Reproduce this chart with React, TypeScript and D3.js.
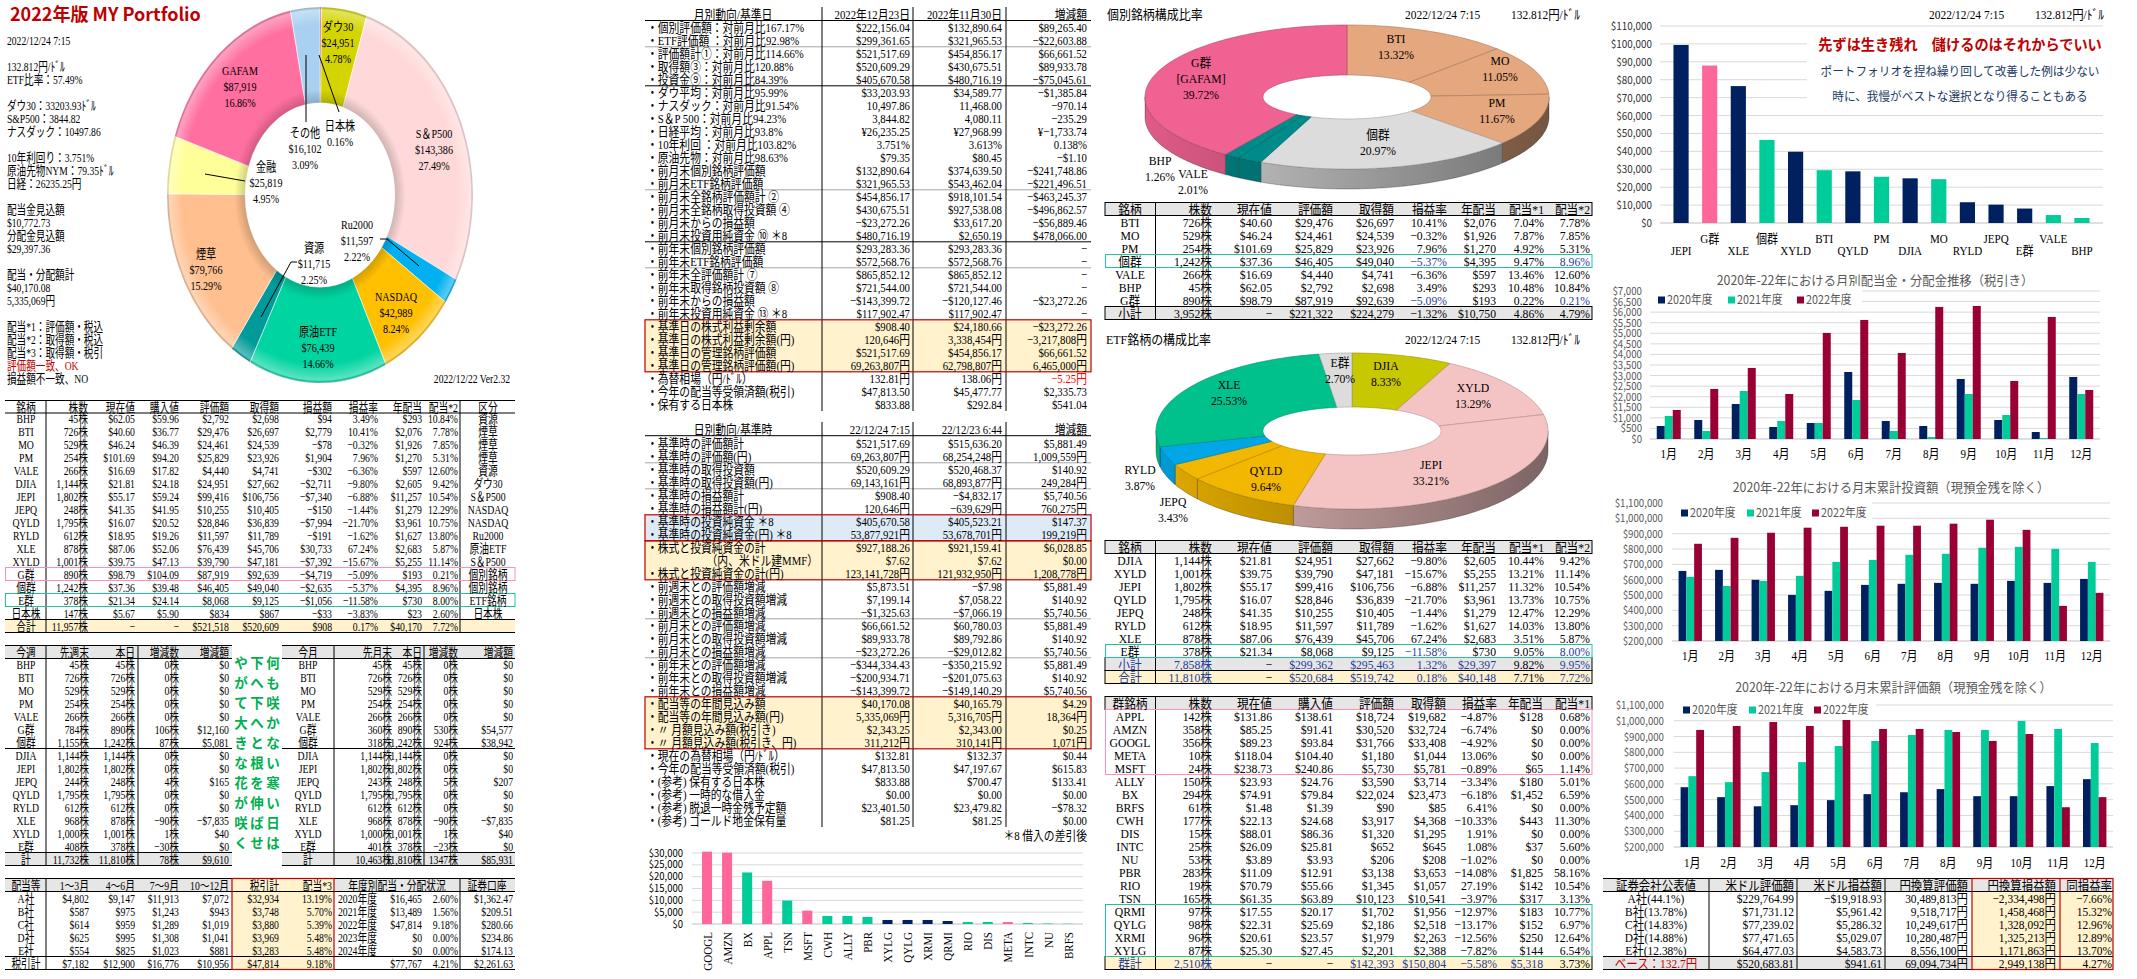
import React from 'react';
import * as d3 from 'd3';

const TF = "'Liberation Serif','Noto Sans CJK JP',serif";
const SF = "'Noto Sans CJK JP','Noto Sans',sans-serif";
const NAVY = '#002060';
const GREEN = '#00cc99';
const PINK = '#ff6699';
const MAROON = '#990033';
const GRAYBG = '#e7e6e6';
const CREAM = '#fff2cc';
const BLUEBG = '#ddebf7';
const RED = '#c00000';
const BLUET = '#1f3c99';
const BOXPINK = '#ff8fbf';
const BOXGREEN = '#1fc49a';

// ================= DATA =================
const infoLines = ['2022/12/24 7:15', '', '132.812円/ﾄﾞﾙ', 'ETF比率：57.49%', '', 'ダウ30：33203.93ﾄﾞﾙ', 'S&P500：3844.82', 'ナスダック：10497.86', '', '10年利回り：3.751%', '原油先物NYM：79.35ﾄﾞﾙ', '日経：26235.25円', '', '配当金見込額', '$10,772.73', '分配金見込額', '$29,397.36', '', '配当・分配額計', '$40,170.08', '5,335,069円', '', '配当*1：評価額・税込', '配当*2：取得額・税込', '配当*3：取得額・税引', '評価額一致、OK', '損益額不一致、NO'];

const donutCats = ['日本株', 'ダウ30', 'S＆P500', 'Ru2000', 'NASDAQ', '原油ETF', '資源', '煙草', '金融', 'GAFAM', 'その他'];
const donutVals = [834, 24951, 143386, 11597, 42989, 76439, 11715, 79766, 25819, 87919, 16102];
const donutPct = ['0.16%', '4.78%', '27.49%', '2.22%', '8.24%', '14.66%', '2.25%', '15.29%', '4.95%', '16.86%', '3.09%'];
const donutColors = ['#c00000', '#d4d400', '#ffd9d9', '#00b0f0', '#ffc000', '#00d4a0', '#009a9a', '#ffbf8f', '#ffff99', '#ff6f9f', '#a8d0f0'];

const holdHeader = ['銘柄', '株数', '現在値', '購入値', '評価額', '取得額', '損益額', '損益率', '年配当', '配当*2', '区分'];
const holdRows = [
  ['BHP', '45株', '$62.05', '$59.96', '$2,792', '$2,698', '$94', '3.49%', '$293', '10.84%', '資源'],
  ['BTI', '726株', '$40.60', '$36.77', '$29,476', '$26,697', '$2,779', '10.41%', '$2,076', '7.78%', '煙草'],
  ['MO', '529株', '$46.24', '$46.39', '$24,461', '$24,539', '−$78', '−0.32%', '$1,926', '7.85%', '煙草'],
  ['PM', '254株', '$101.69', '$94.20', '$25,829', '$23,926', '$1,904', '7.96%', '$1,270', '5.31%', '煙草'],
  ['VALE', '266株', '$16.69', '$17.82', '$4,440', '$4,741', '−$302', '−6.36%', '$597', '12.60%', '資源'],
  ['DJIA', '1,144株', '$21.81', '$24.18', '$24,951', '$27,662', '−$2,711', '−9.80%', '$2,605', '9.42%', 'ダウ30'],
  ['JEPI', '1,802株', '$55.17', '$59.24', '$99,416', '$106,756', '−$7,340', '−6.88%', '$11,257', '10.54%', 'S＆P500'],
  ['JEPQ', '248株', '$41.35', '$41.95', '$10,255', '$10,405', '−$150', '−1.44%', '$1,279', '12.29%', 'NASDAQ'],
  ['QYLD', '1,795株', '$16.07', '$20.52', '$28,846', '$36,839', '−$7,994', '−21.70%', '$3,961', '10.75%', 'NASDAQ'],
  ['RYLD', '612株', '$18.95', '$19.26', '$11,597', '$11,789', '−$191', '−1.62%', '$1,627', '13.80%', 'Ru2000'],
  ['XLE', '878株', '$87.06', '$52.06', '$76,439', '$45,706', '$30,733', '67.24%', '$2,683', '5.87%', '原油ETF'],
  ['XYLD', '1,001株', '$39.75', '$47.13', '$39,790', '$47,181', '−$7,392', '−15.67%', '$5,255', '11.14%', 'S＆P500'],
  ['G群', '890株', '$98.79', '$104.09', '$87,919', '$92,639', '−$4,719', '−5.09%', '$193', '0.21%', '個別銘柄'],
  ['個群', '1,242株', '$37.36', '$39.48', '$46,405', '$49,040', '−$2,635', '−5.37%', '$4,395', '8.96%', '個別銘柄'],
  ['E群', '378株', '$21.34', '$24.14', '$8,068', '$9,125', '−$1,056', '−11.58%', '$730', '8.00%', 'ETF銘柄'],
  ['日本株', '147株', '$5.67', '$5.90', '$834', '$867', '−$33', '−3.83%', '$23', '2.60%', '日本株'],
  ['合計', '11,957株', '−', '−', '$521,518', '$520,609', '$908', '0.17%', '$40,170', '7.72%', ''],
];

const weekHeader = ['今週', '先週末', '本日', '増減数', '増減額'];
const weekRows = [
  ['BHP', '45株', '45株', '0株', '$0'], ['BTI', '726株', '726株', '0株', '$0'], ['MO', '529株', '529株', '0株', '$0'],
  ['PM', '254株', '254株', '0株', '$0'], ['VALE', '266株', '266株', '0株', '$0'], ['G群', '784株', '890株', '106株', '$12,160'],
  ['個群', '1,155株', '1,242株', '87株', '$5,081'], ['DJIA', '1,144株', '1,144株', '0株', '$0'], ['JEPI', '1,802株', '1,802株', '0株', '$0'],
  ['JEPQ', '244株', '248株', '4株', '$165'], ['QYLD', '1,795株', '1,795株', '0株', '$0'], ['RYLD', '612株', '612株', '0株', '$0'],
  ['XLE', '968株', '878株', '−90株', '−$7,835'], ['XYLD', '1,000株', '1,001株', '1株', '$40'], ['E群', '408株', '378株', '−30株', '$0'],
  ['計', '11,732株', '11,810株', '78株', '$9,610'],
];
const monthHeader = ['今月', '先月末', '本日', '増減数', '増減額'];
const monthRows = [
  ['BHP', '45株', '45株', '0株', '$0'], ['BTI', '726株', '726株', '0株', '$0'], ['MO', '529株', '529株', '0株', '$0'],
  ['PM', '254株', '254株', '0株', '$0'], ['VALE', '266株', '266株', '0株', '$0'], ['G群', '360株', '890株', '530株', '$54,577'],
  ['個群', '318株', '1,242株', '924株', '$38,942'], ['DJIA', '1,144株', '1,144株', '0株', '$0'], ['JEPI', '1,802株', '1,802株', '0株', '$0'],
  ['JEPQ', '243株', '248株', '5株', '$207'], ['QYLD', '1,795株', '1,795株', '0株', '$0'], ['RYLD', '612株', '612株', '0株', '$0'],
  ['XLE', '968株', '878株', '−90株', '−$7,835'], ['XYLD', '1,000株', '1,001株', '1株', '$40'], ['E群', '401株', '378株', '−23株', '$0'],
  ['計', '10,463株', '11,810株', '1347株', '$85,931'],
];
const poemCols = ['やがて大きな花が咲く', '下へ下へと根を伸ばせ', '何も咲かない寒い日は'];

const divHeader = ['配当等', '1～3月', '4～6月', '7～9月', '10～12月', '税引計', '配当*3', '年度別配当・分配状況', '証券口座'];
const divRows = [
  ['A社', '$4,802', '$9,147', '$11,913', '$7,072', '$32,934', '13.19%', '2020年度', '$16,465', '2.60%', '$1,362.47'],
  ['B社', '$587', '$975', '$1,243', '$943', '$3,748', '5.70%', '2021年度', '$13,489', '1.56%', '$209.51'],
  ['C社', '$614', '$959', '$1,289', '$1,019', '$3,880', '5.39%', '2022年度', '$47,814', '9.18%', '$280.66'],
  ['D社', '$625', '$995', '$1,308', '$1,041', '$3,969', '5.48%', '2023年度', '$0', '0.00%', '$234.86'],
  ['E社', '$554', '$825', '$1,023', '$881', '$3,283', '5.48%', '2024年度', '$0', '0.00%', '$174.13'],
  ['税引計', '$7,182', '$12,900', '$16,776', '$10,956', '$47,814', '9.18%', '', '$77,767', '4.21%', '$2,261.63'],
];

const monHeader = ['月別動向/基準日', '2022年12月23日', '2022年11月30日', '増減額'];
const monRows = [
  ['・個別評価額：対前月比167.17%', '$222,156.04', '$132,890.64', '$89,265.40'],
  ['・ETF評価額 ：対前月比92.98%', '$299,361.65', '$321,965.53', '−$22,603.88'],
  ['・評価額計①：対前月比114.66%', '$521,517.69', '$454,856.17', '$66,661.52'],
  ['・取得額③：対前月比120.88%', '$520,609.29', '$430,675.51', '$89,933.78'],
  ['・投資金⑨：対前月比84.39%', '$405,670.58', '$480,716.19', '−$75,045.61'],
  ['・ダウ平均：対前月比95.99%', '$33,203.93', '$34,589.77', '−$1,385.84'],
  ['・ナスダック：対前月比91.54%', '10,497.86', '11,468.00', '−970.14'],
  ['・S＆P 500：対前月比94.23%', '3,844.82', '4,080.11', '−235.29'],
  ['・日経平均：対前月比93.8%', '¥26,235.25', '¥27,968.99', '¥−1,733.74'],
  ['・10年利回 ：対前月比103.82%', '3.751%', '3.613%', '0.138%'],
  ['・原油先物：対前月比98.63%', '$79.35', '$80.45', '−$1.10'],
  ['・前月末個別銘柄評価額', '$132,890.64', '$374,639.50', '−$241,748.86'],
  ['・前月末ETF銘柄評価額', '$321,965.53', '$543,462.04', '−$221,496.51'],
  ['・前月末全銘柄評価額計 ②', '$454,856.17', '$918,101.54', '−$463,245.37'],
  ['・前月末全銘柄取得投資額 ④', '$430,675.51', '$927,538.08', '−$496,862.57'],
  ['・前月末からの損益額', '−$23,272.26', '$33,617.20', '−$56,889.46'],
  ['・前月末投資用純資金 ⑩ ＊8', '$480,716.19', '$2,650.19', '$478,066.00'],
  ['・前年末個別銘柄評価額', '$293,283.36', '$293,283.36', '−'],
  ['・前年末ETF銘柄評価額', '$572,568.76', '$572,568.76', '−'],
  ['・前年末全評価額計 ⑦', '$865,852.12', '$865,852.12', '−'],
  ['・前年末取得銘柄投資額 ⑧', '$721,544.00', '$721,544.00', '−'],
  ['・前年末からの損益額', '−$143,399.72', '−$120,127.46', '−$23,272.26'],
  ['・前年末投資用純資金 ⑬ ＊8', '$117,902.47', '$117,902.47', '−'],
  ['・基準日の株式利益剰余額', '$908.40', '$24,180.66', '−$23,272.26'],
  ['・基準日の株式利益剰余額(円)', '120,646円', '3,338,454円', '−3,217,808円'],
  ['・基準日の管理銘柄評価額', '$521,517.69', '$454,856.17', '$66,661.52'],
  ['・基準日の管理銘柄評価額(円)', '69,263,807円', '62,798,807円', '6,465,000円'],
  ['・為替相場（円/ﾄﾞﾙ）', '132.81円', '138.06円', '−5.25円'],
  ['・今年の配当等受領済額(税引)', '$47,813.50', '$45,477.77', '$2,335.73'],
  ['・保有する日本株', '$833.88', '$292.84', '$541.04'],
];

const dayHeader = ['日別動向/基準時', '22/12/24 7:15', '22/12/23 6:44', '増減額'];
const dayRows = [
  ['・基準時の評価額計', '$521,517.69', '$515,636.20', '$5,881.49'],
  ['・基準時の評価額(円)', '69,263,807円', '68,254,248円', '1,009,559円'],
  ['・基準時の取得投資額', '$520,609.29', '$520,468.37', '$140.92'],
  ['・基準時の取得投資額(円)', '69,143,161円', '68,893,877円', '249,284円'],
  ['・基準時の損益額計', '$908.40', '−$4,832.17', '$5,740.56'],
  ['・基準時の損益額計(円)', '120,646円', '−639,629円', '760,275円'],
  ['・基準時の投資純資金 ＊8', '$405,670.58', '$405,523.21', '$147.37'],
  ['・基準時の投資純資金(円) ＊8', '53,877,921円', '53,678,701円', '199,219円'],
  ['・株式と投資純資金の計', '$927,188.26', '$921,159.41', '$6,028.85'],
  ['（内、米ドル建MMF）', '$7.62', '$7.62', '$0.00'],
  ['・株式と投資純資金の計(円)', '123,141,728円', '121,932,950円', '1,208,778円'],
  ['・前週末との評価額増減', '$5,873.51', '−$7.98', '$5,881.49'],
  ['・前週末との取得投資額増減', '$7,199.14', '$7,058.22', '$140.92'],
  ['・前週末との損益額増減', '−$1,325.63', '−$7,066.19', '$5,740.56'],
  ['・前月末との評価額増減', '$66,661.52', '$60,780.03', '$5,881.49'],
  ['・前月末との取得投資額増減', '$89,933.78', '$89,792.86', '$140.92'],
  ['・前月末との損益額増減', '−$23,272.26', '−$29,012.82', '$5,740.56'],
  ['・前年末との評価額増減', '−$344,334.43', '−$350,215.92', '$5,881.49'],
  ['・前年末との取得投資額増減', '−$200,934.71', '−$201,075.63', '$140.92'],
  ['・前年末との損益額増減', '−$143,399.72', '−$149,140.29', '$5,740.56'],
  ['・配当等の年間見込み額', '$40,170.08', '$40,165.79', '$4.29'],
  ['・配当等の年間見込み額(円)', '5,335,069円', '5,316,705円', '18,364円'],
  ['・〃 月額見込み額(税引き)', '$2,343.25', '$2,343.00', '$0.25'],
  ['・〃 月額見込み額(税引き、円)', '311,212円', '310,141円', '1,071円'],
  ['・現在の為替相場（円/ﾄﾞﾙ）', '$132.81', '$132.37', '$0.44'],
  ['・今年の配当等受領済額(税引)', '$47,813.50', '$47,197.67', '$615.83'],
  ['・(参考) 保有する日本株', '$833.88', '$700.47', '$133.41'],
  ['・(参考) 一時的な借入金', '$0.00', '$0.00', '$0.00'],
  ['・(参考) 脱退一時金残予定額', '$23,401.50', '$23,479.82', '−$78.32'],
  ['・(参考) ゴールド地金保有量', '$81.25', '$81.25', '$0.00'],
];

const grpNames = ['GOOGL', 'AMZN', 'BX', 'APPL', 'TSN', 'MSFT', 'CWH', 'ALLY', 'PBR', 'XYLG', 'QYLG', 'XRMI', 'QRMI', 'RIO', 'DIS', 'META', 'INTC', 'NU', 'BRFS'];
const grpVals = [30560, 30140, 21790, 18250, 9900, 5660, 3400, 3400, 2970, 1700, 1700, 1700, 1270, 850, 850, 850, 420, 200, 90];
const grpKind = ['g', 'g', 'i', 'g', 'i', 'g', 'i', 'i', 'i', 'e', 'e', 'e', 'e', 'i', 'i', 'g', 'i', 'i', 'i'];

const indHeader = ['銘柄', '株数', '現在値', '評価額', '取得額', '損益率', '年配当', '配当*1', '配当*2'];
const indRows = [
  ['BTI', '726株', '$40.60', '$29,476', '$26,697', '10.41%', '$2,076', '7.04%', '7.78%'],
  ['MO', '529株', '$46.24', '$24,461', '$24,539', '−0.32%', '$1,926', '7.87%', '7.85%'],
  ['PM', '254株', '$101.69', '$25,829', '$23,926', '7.96%', '$1,270', '4.92%', '5.31%'],
  ['個群', '1,242株', '$37.36', '$46,405', '$49,040', '−5.37%', '$4,395', '9.47%', '8.96%'],
  ['VALE', '266株', '$16.69', '$4,440', '$4,741', '−6.36%', '$597', '13.46%', '12.60%'],
  ['BHP', '45株', '$62.05', '$2,792', '$2,698', '3.49%', '$293', '10.48%', '10.84%'],
  ['G群', '890株', '$98.79', '$87,919', '$92,639', '−5.09%', '$193', '0.22%', '0.21%'],
  ['小計', '3,952株', '−', '$221,322', '$224,279', '−1.32%', '$10,750', '4.86%', '4.79%'],
];
const pie1Names = ['BTI', 'MO', 'PM', '個群', 'VALE', 'BHP', 'G群'];
const pie1Vals = [13.32, 11.05, 11.67, 20.97, 2.01, 1.26, 39.72];
const pie1Colors = ['#e4a77e', '#e4a77e', '#e4a77e', '#dcdcdc', '#008b8b', '#008b8b', '#f06292'];

const etfRows = [
  ['DJIA', '1,144株', '$21.81', '$24,951', '$27,662', '−9.80%', '$2,605', '10.44%', '9.42%'],
  ['XYLD', '1,001株', '$39.75', '$39,790', '$47,181', '−15.67%', '$5,255', '13.21%', '11.14%'],
  ['JEPI', '1,802株', '$55.17', '$99,416', '$106,756', '−6.88%', '$11,257', '11.32%', '10.54%'],
  ['QYLD', '1,795株', '$16.07', '$28,846', '$36,839', '−21.70%', '$3,961', '13.73%', '10.75%'],
  ['JEPQ', '248株', '$41.35', '$10,255', '$10,405', '−1.44%', '$1,279', '12.47%', '12.29%'],
  ['RYLD', '612株', '$18.95', '$11,597', '$11,789', '−1.62%', '$1,627', '14.03%', '13.80%'],
  ['XLE', '878株', '$87.06', '$76,439', '$45,706', '67.24%', '$2,683', '3.51%', '5.87%'],
  ['E群', '378株', '$21.34', '$8,068', '$9,125', '−11.58%', '$730', '9.05%', '8.00%'],
  ['小計', '7,858株', '−', '$299,362', '$295,463', '1.32%', '$29,397', '9.82%', '9.95%'],
  ['合計', '11,810株', '−', '$520,684', '$519,742', '0.18%', '$40,148', '7.71%', '7.72%'],
];
const pie2Names = ['DJIA', 'XYLD', 'JEPI', 'QYLD', 'JEPQ', 'RYLD', 'XLE', 'E群'];
const pie2Vals = [8.33, 13.29, 33.21, 9.64, 3.43, 3.87, 25.53, 2.70];
const pie2Colors = ['#c8c800', '#f4c4c4', '#f4c4c4', '#f2b700', '#f2b700', '#00a6e6', '#00c08c', '#dcdcdc'];

const gunHeader = ['群銘柄', '株数', '現在値', '購入値', '評価額', '取得額', '損益率', '年配当', '配当*1'];
const gunRows = [
  ['APPL', '142株', '$131.86', '$138.61', '$18,724', '$19,682', '−4.87%', '$128', '0.68%'],
  ['AMZN', '358株', '$85.25', '$91.41', '$30,520', '$32,724', '−6.74%', '$0', '0.00%'],
  ['GOOGL', '356株', '$89.23', '$93.84', '$31,766', '$33,408', '−4.92%', '$0', '0.00%'],
  ['META', '10株', '$118.04', '$104.40', '$1,180', '$1,044', '13.06%', '$0', '0.00%'],
  ['MSFT', '24株', '$238.73', '$240.86', '$5,730', '$5,781', '−0.89%', '$65', '1.14%'],
  ['ALLY', '150株', '$23.93', '$24.76', '$3,590', '$3,714', '−3.34%', '$180', '5.01%'],
  ['BX', '294株', '$74.91', '$79.84', '$22,024', '$23,473', '−6.18%', '$1,452', '6.59%'],
  ['BRFS', '61株', '$1.48', '$1.39', '$90', '$85', '6.41%', '$0', '0.00%'],
  ['CWH', '177株', '$22.13', '$24.68', '$3,917', '$4,368', '−10.33%', '$443', '11.30%'],
  ['DIS', '15株', '$88.01', '$86.36', '$1,320', '$1,295', '1.91%', '$0', '0.00%'],
  ['INTC', '25株', '$26.09', '$25.81', '$652', '$645', '1.08%', '$37', '5.60%'],
  ['NU', '53株', '$3.89', '$3.93', '$206', '$208', '−1.02%', '$0', '0.00%'],
  ['PBR', '283株', '$11.09', '$12.91', '$3,138', '$3,653', '−14.08%', '$1,825', '58.16%'],
  ['RIO', '19株', '$70.79', '$55.66', '$1,345', '$1,057', '27.19%', '$142', '10.54%'],
  ['TSN', '165株', '$61.35', '$63.89', '$10,123', '$10,541', '−3.97%', '$317', '3.13%'],
  ['QRMI', '97株', '$17.55', '$20.17', '$1,702', '$1,956', '−12.97%', '$183', '10.77%'],
  ['QYLG', '98株', '$22.31', '$25.69', '$2,186', '$2,518', '−13.17%', '$152', '6.97%'],
  ['XRMI', '96株', '$20.61', '$23.57', '$1,979', '$2,263', '−12.56%', '$250', '12.64%'],
  ['XYLG', '87株', '$25.30', '$27.45', '$2,201', '$2,388', '−7.82%', '$144', '6.54%'],
  ['群計', '2,510株', '−', '−', '$142,393', '$150,804', '−5.58%', '$5,318', '3.73%'],
];

const topNames = ['JEPI', 'G群', 'XLE', '個群', 'XYLD', 'BTI', 'QYLD', 'PM', 'DJIA', 'MO', 'RYLD', 'JEPQ', 'E群', 'VALE', 'BHP'];
const topVals = [99416, 87919, 76439, 46405, 39790, 29476, 28846, 25829, 24951, 24461, 11597, 10255, 8068, 4440, 2792];
const topKind = ['e', 'g', 'e', 'i', 'e', 'i', 'e', 'i', 'e', 'i', 'e', 'e', 'e', 'i', 'i'];

const months = ['1月', '2月', '3月', '4月', '5月', '6月', '7月', '8月', '9月', '10月', '11月', '12月'];
const years = ['2020年度', '2021年度', '2022年度'];
const div2020 = [615, 899, 1656, 568, 757, 3170, 852, 615, 2839, 899, 331, 2934];
const div2021 = [1088, 379, 2271, 852, 757, 1845, 379, 95, 2129, 1136, 47, 2129];
const div2022 = [1372, 2366, 3360, 2129, 5016, 5631, 4069, 6246, 6293, 2744, 5773, 2319];
const inv2020 = [657000, 664000, 599000, 501000, 527000, 566000, 573000, 579000, 573000, 592000, 579000, 605000];
const inv2021 = [618000, 559000, 592000, 625000, 716000, 729000, 762000, 769000, 808000, 814000, 801000, 716000];
const inv2022 = [834000, 873000, 906000, 939000, 945000, 952000, 952000, 965000, 991000, 925000, 429000, 514000];
const val2020 = [579000, 516000, 458000, 465000, 497000, 535000, 547000, 567000, 522000, 522000, 586000, 630000];
const val2021 = [649000, 611000, 675000, 738000, 840000, 872000, 910000, 942000, 942000, 999000, 948000, 859000];
const val2022 = [942000, 967000, 992000, 967000, 1005000, 948000, 948000, 929000, 872000, 916000, 452000, 516000];

const brokerHeader = ['証券会社公表値', '米ドル評価額', '米ドル損益額', '円換算評価額', '円換算損益額', '同損益率'];
const brokerRows = [
  ['A社(44.1%)', '$229,764.99', '−$19,918.93', '30,489,813円', '−2,334,498円', '−7.66%'],
  ['B社(13.78%)', '$71,731.12', '$5,961.42', '9,518,717円', '1,458,468円', '15.32%'],
  ['C社(14.83%)', '$77,239.02', '$5,286.32', '10,249,617円', '1,328,092円', '12.96%'],
  ['D社(14.88%)', '$77,471.65', '$5,029.07', '10,280,487円', '1,325,213円', '12.89%'],
  ['E社(12.38%)', '$64,477.03', '$4,583.73', '8,556,100円', '1,171,863円', '13.70%'],
  ['ベース：132.7円', '$520,683.81', '$941.61', '69,094,734円', '2,949,138円', '4.27%'],
];

// ================= LAYOUT =================
type Anchor = 'start' | 'middle' | 'end';
type Col = [number, Anchor];
const donutLabelXY: [number, number][] = [[340, 133], [338, 42], [434, 149], [357, 240], [396, 312], [318, 347], [314, 263], [206, 269], [266, 182], [240, 86], [305, 148]];
const donutLeaders: number[][][] = [
  [[306, 122], [306, 55]],
  [[339, 112], [319, 55]],
  [[245, 181], [205, 174]],
  [[297, 262], [291, 262], [261, 317]],
  [[380, 239], [387, 239], [419, 266]],
];
const pie1LabelXY: [number, number][] = [[1396, 46], [1500, 68], [1497, 110], [1378, 142], [1193, 181], [1160, 168], [1201, 78]];
const pie2LabelXY: [number, number][] = [[1386, 373], [1473, 395], [1431, 472], [1266, 478], [1173, 509], [1140, 477], [1229, 392], [1340, 370]];

const kindColor = (k: string) => (k === 'g' ? PINK : k === 'i' ? GREEN : NAVY);

export default function App() {
  let kc = 0;
  const defs: React.ReactNode[] = [];
  const out: React.ReactNode[] = [];
  const T = (x: number, y: number, s: string, o: any = {}) => {
    const { a = 'start', fs = 13, sx = 0.75, fill = '#000', fw = 400, ff = TF, rot = 0 } = o;
    out.push(
      <text key={kc++} transform={`translate(${x},${y})${rot ? ` rotate(${rot})` : ''} scale(${sx},1)`} textAnchor={a} dy="0.36em" fontSize={fs} fill={fill} fontWeight={fw} fontFamily={ff}>{s}</text>
    );
  };
  const L = (x1: number, y1: number, x2: number, y2: number, stroke = '#000', w = 1) =>
    out.push(<line key={kc++} x1={x1} y1={y1} x2={x2} y2={y2} stroke={stroke} strokeWidth={w} />);
  const R = (x: number, y: number, w: number, h: number, fill = 'none', stroke = 'none', sw = 1) =>
    out.push(<rect key={kc++} x={x} y={y} width={w} height={h} fill={fill} stroke={stroke} strokeWidth={sw} />);
  const PL = (pts: number[][], stroke = '#000', w = 1) =>
    out.push(<polyline key={kc++} points={pts.map(p => p.join(',')).join(' ')} fill="none" stroke={stroke} strokeWidth={w} />);

  const table = (cols: Col[], header: string[] | null, hy: number, rows: string[][], y0: number, sx: number, color?: (r: number, c: number) => string | undefined, hcols?: Col[]) => {
    if (header) header.forEach((h, i) => { const c = (hcols || cols)[i]; if (c) T(c[0], hy, h, { a: c[1], sx }); });
    rows.forEach((r, ri) => r.forEach((s, ci) => {
      const c = cols[ci];
      if (!c || !s) return;
      T(c[0], y0 + ri * 13, s, { a: c[1], sx, fill: (color && color(ri, ci)) || '#000' });
    }));
  };

  // ---------- TOP-LEFT ----------
  T(10, 15, '2022年版 MY Portfolio', { fs: 18, sx: 1, fill: RED, fw: 700, ff: SF });
  infoLines.forEach((s, i) => { if (s) T(7, 40 + i * 13, s, { sx: 0.74, fill: i === 25 ? RED : '#000' }); });

  // main donut
  const pieGen = d3.pie<number>().sort(null).value(d => d);
  const arcsD = pieGen(donutVals);
  const arcGen = d3.arc<d3.PieArcDatum<number>>().innerRadius(75).outerRadius(153);
  defs.push(
    <radialGradient key="dsh" id="dsh" cx={0} cy={0} r={153} gradientUnits="userSpaceOnUse">
      <stop offset="0.49" stopColor="#000" stopOpacity={0.18} />
      <stop offset="0.56" stopColor="#000" stopOpacity={0} />
      <stop offset="0.9" stopColor="#fff" stopOpacity={0} />
      <stop offset="0.985" stopColor="#fff" stopOpacity={0.35} />
      <stop offset="1" stopColor="#000" stopOpacity={0.15} />
    </radialGradient>
  );
  out.push(
    <g key={kc++} transform="translate(320,195) scale(1,1.229)">
      {arcsD.map((a, i) => <path key={i} d={arcGen(a) || ''} fill={donutColors[i]} stroke="#fff" strokeWidth={0.5} />)}
      <path d={d3.arc()({ innerRadius: 75, outerRadius: 153, startAngle: 0, endAngle: 2 * Math.PI } as any) || ''} fill="url(#dsh)" />
    </g>
  );
  donutLeaders.forEach(p => PL(p));
  const fmt$ = d3.format('$,');
  donutCats.forEach((c, i) => {
    const lines = i === 0 ? [c, donutPct[i]] : [c, fmt$(donutVals[i]), donutPct[i]];
    const [x, y] = donutLabelXY[i];
    const off = lines.length === 2 ? [-8, 8] : [-16, 0, 16];
    lines.forEach((s, j) => T(x, y + off[j], s, { a: 'middle', sx: 0.78 }));
  });
  T(510, 378, '2022/12/22 Ver2.32', { a: 'end', sx: 0.74 });

  // ---------- Table 1 ----------
  const c1: Col[] = [[26, 'middle'], [88, 'end'], [135, 'end'], [179, 'end'], [229, 'end'], [279, 'end'], [332, 'end'], [378, 'end'], [422, 'end'], [458, 'end'], [488, 'middle']];
  R(5, 619.5, 510, 13, CREAM);
  L(5, 400.5, 515, 400.5); L(5, 413, 515, 413); L(5, 619.5, 515, 619.5); L(5, 632.5, 515, 632.5);
  L(46, 400.5, 46, 632.5); L(460, 400.5, 460, 632.5);
  R(5.5, 567.5, 509.5, 13, 'none', BOXPINK);
  R(5.5, 593.5, 509.5, 13, 'none', BOXGREEN);
  table(c1, holdHeader, 407, holdRows, 418, 0.75);

  // ---------- Table week / month ----------
  const cw: Col[] = [[26, 'middle'], [89, 'end'], [135, 'end'], [179, 'end'], [229, 'end']];
  const cm: Col[] = [[308, 'middle'], [392, 'end'], [422, 'end'], [458, 'end'], [513, 'end']];
  [[5, 232, 46, 138], [282, 515, 334, 424]].forEach(([xa, xb, v1, v2]) => {
    R(xa, 645.5, xb - xa, 13, GRAYBG);
    R(xa, 852.5, xb - xa, 13, GRAYBG);
    [645.5, 658.5, 748.5, 852.5, 865.5].forEach(y => L(xa, y, xb, y));
    L(v1, 645.5, v1, 865.5); L(v2, 645.5, v2, 865.5);
  });
  table(cw, weekHeader, 652, weekRows, 664, 0.75);
  table(cm, monthHeader, 652, monthRows, 664, 0.75);
  const poemX = [241, 257, 273];
  poemCols.forEach((s, ci) => Array.from(s).forEach((ch, j) => T(poemX[ci], 663 + j * 20, ch, { a: 'middle', sx: 1, fs: 13.5, fw: 700, ff: SF, fill: '#00b050' })));

  // ---------- Table dividends ----------
  const cd: Col[] = [[26, 'middle'], [89, 'end'], [135, 'end'], [179, 'end'], [229, 'end'], [279, 'end'], [332, 'end'], [338, 'start'], [422, 'end'], [458, 'end'], [513, 'end']];
  const cdh: Col[] = [[26, 'middle'], [89, 'end'], [135, 'end'], [179, 'end'], [229, 'end'], [279, 'end'], [332, 'end'], [397, 'middle'], [487, 'middle']];
  R(5, 878.5, 227, 13, GRAYBG); R(334, 878.5, 181, 13, GRAYBG);
  R(232, 878.5, 102, 91, CREAM);
  [878.5, 891.5, 956.5, 969.5].forEach(y => L(5, y, 515, y));
  L(46, 878.5, 46, 969.5); L(460, 878.5, 460, 969.5);
  R(232, 878.5, 102, 91, 'none', RED, 1.2);
  table(cd, divHeader, 885, divRows, 898, 0.75, undefined, cdh);

  // ---------- Middle monthly table ----------
  const cmid: Col[] = [[647, 'start'], [910, 'end'], [1002, 'end'], [1087, 'end']];
  const cmidH: Col[] = [[733, 'middle'], [910, 'end'], [1002, 'end'], [1087, 'end']];
  const ya = (i: number) => 27.3 + 13 * i;
  R(645, ya(22.5), 446, 52, CREAM);
  L(645, 20.5, 1091, 20.5);
  [1.5, 12.5, 18.5].forEach(v => L(645, ya(v), 1091, ya(v), '#a6a6a6'));
  [4.5, 16.5].forEach(v => L(645, ya(v), 1091, ya(v)));
  [822, 913, 1006].forEach(x => L(x, 7, x, 411));
  R(645, ya(22.5), 446, 52, 'none', RED, 1.2);
  table(cmid, monHeader, 14, monRows, 27.3, 0.83, (r, c) => (r === 27 && c === 3 ? '#ff0000' : undefined), cmidH);

  // ---------- Middle daily table ----------
  const yb = (i: number) => 443.3 + 13 * i;
  R(645, yb(5.5), 446, 26, BLUEBG);
  R(645, yb(7.5), 446, 39, CREAM);
  R(645, yb(19.5), 446, 52, CREAM);
  L(645, 435.7, 1091, 435.7);
  [1.5, 3.5, 13.5, 16.5].forEach(v => L(645, yb(v), 1091, yb(v), '#a6a6a6'));
  [822, 913, 1006].forEach(x => L(x, 422, x, 827));
  R(645, yb(5.5), 446, 26, 'none', RED, 1.2);
  R(645, yb(7.5), 446, 39, 'none', RED, 1.2);
  R(645, yb(19.5), 446, 52, 'none', RED, 1.2);
  const dayMain = dayRows.map(r => (r[0].startsWith('（') ? ['', r[1], r[2], r[3]] : r));
  table(cmid, dayHeader, 429, dayMain, 443.3, 0.83, undefined, cmidH);
  dayRows.forEach((r, i) => { if (r[0].startsWith('（')) T(818, yb(i), r[0], { a: 'end', sx: 0.83 }); });
  T(1087, 835, '＊8 借入の差引後', { a: 'end', sx: 0.83 });

  // ---------- Middle bar chart ----------
  const gx = d3.scaleBand().domain(grpNames).range([692, 1083]).padding(0.5);
  const gy = d3.scaleLinear().domain([0, 30000]).range([924, 853]);
  gy.ticks(6).forEach(t => {
    L(692, gy(t), 1083, gy(t), t === 0 ? '#bfbfbf' : '#d9d9d9');
    T(683, gy(t), fmt$(t), { a: 'end', ff: SF, fs: 10, sx: 0.95 });
  });
  grpNames.forEach((n, i) => {
    R(gx(n)!, gy(grpVals[i]), gx.bandwidth(), gy(0) - gy(grpVals[i]), kindColor(grpKind[i]));
    T(gx(n)! + gx.bandwidth() / 2, 932, n, { a: 'end', rot: -90, sx: 0.85, fs: 13 });
  });

  // ---------- Right-center: pies & tables ----------
  const pie3d = (id: string, cx: number, cy: number, rx: number, ry: number, irx: number, iry: number, depth: number, vals: number[], colors: string[]) => {
    const total = d3.sum(vals);
    const ang: [number, number][] = [];
    let acc = 0;
    vals.forEach(v => { const a0 = (acc / total) * 2 * Math.PI; acc += v; ang.push([a0, (acc / total) * 2 * Math.PI]); });
    const pt = (t: number, a: number, b: number, dy = 0) => [cx + a * Math.sin(t), cy - b * Math.cos(t) + dy];
    const arcPts = (t0: number, t1: number, a: number, b: number, dy = 0) => {
      const n = Math.max(2, Math.ceil((t1 - t0) / 0.015));
      return d3.range(n + 1).map(j => pt(t0 + ((t1 - t0) * j) / n, a, b, dy));
    };
    const toPath = (pts: number[][]) => 'M' + pts.map(p => p[0].toFixed(2) + ',' + p[1].toFixed(2)).join('L') + 'Z';
    colors.forEach((c, i) => {
      defs.push(
        <linearGradient key={id + i} id={`${id}${i}`} gradientUnits="userSpaceOnUse" x1={cx - rx} y1={0} x2={cx + rx} y2={0}>
          <stop offset="0" stopColor={d3.color(c)!.darker(0.2).formatHex()} />
          <stop offset="1" stopColor={d3.color(c)!.darker(1.9).formatHex()} />
        </linearGradient>
      );
    });
    ang.forEach(([a0, a1], i) => {
      const s0 = Math.max(a0, Math.PI / 2), s1 = Math.min(a1, 1.5 * Math.PI);
      if (s1 <= s0) return;
      const top = arcPts(s0, s1, rx, ry);
      const bot = arcPts(s0, s1, rx, ry, depth).reverse();
      out.push(<path key={kc++} d={toPath(top.concat(bot))} fill={`url(#${id}${i})`} stroke="rgba(0,0,0,0.45)" strokeWidth={0.6} />);
    });
    ang.forEach(([a0, a1], i) => {
      out.push(<path key={kc++} d={toPath(arcPts(a0, a1, rx, ry).concat(arcPts(a0, a1, irx, iry).reverse()))} fill={colors[i]} stroke={d3.color(colors[i])!.darker(0.9).formatHex()} strokeWidth={0.6} />);
    });
  };

  T(1107, 14, '個別銘柄構成比率', { sx: 0.92 });
  T(1405, 14, '2022/12/24 7:15', { sx: 0.88 });
  T(1511, 14, '132.812円/ﾄﾞﾙ', { sx: 0.88 });
  pie3d('p1', 1347, 97, 202, 72, 84, 22, 20, pie1Vals, pie1Colors);
  const pctFmt = (v: number) => v.toFixed(2) + '%';
  pie1Names.forEach((n, i) => {
    const lines = n === 'G群' ? [n, '[GAFAM]', pctFmt(pie1Vals[i])] : [n, pctFmt(pie1Vals[i])];
    const [x, y] = pie1LabelXY[i];
    const off = lines.length === 2 ? [-8, 8] : [-16, 0, 16];
    lines.forEach((s, j) => T(x, y + off[j], s, { a: 'middle', sx: 0.9 }));
  });

  const cr: Col[] = [[1130, 'middle'], [1212, 'end'], [1272, 'end'], [1333, 'end'], [1394, 'end'], [1447, 'end'], [1496, 'end'], [1544, 'end'], [1590, 'end']];
  const cg: Col[] = [[1130, 'middle'], [1212, 'end'], [1272, 'end'], [1333, 'end'], [1394, 'end'], [1446, 'end'], [1497, 'end'], [1543, 'end'], [1590, 'end']];
  R(1105, 202.5, 487, 13, GRAYBG, '#000');
  R(1105, 306.5, 487, 13, GRAYBG, '#000');
  L(1155.5, 202.5, 1155.5, 319.5);
  R(1105.5, 254.5, 486.5, 13, 'none', BOXGREEN);
  table(cr, indHeader, 209, indRows, 222, 0.9, (r, c) => ((r === 3 || r === 6) && (c === 5 || c === 8) ? BLUET : undefined));

  T(1106, 339, 'ETF銘柄の構成比率', { sx: 0.92 });
  T(1405, 339, '2022/12/24 7:15', { sx: 0.88 });
  T(1511, 339, '132.812円/ﾄﾞﾙ', { sx: 0.88 });
  pie3d('p2', 1352, 431, 196, 78, 89, 24, 20, pie2Vals, pie2Colors);
  pie2Names.forEach((n, i) => {
    const [x, y] = pie2LabelXY[i];
    T(x, y - 8, n, { a: 'middle', sx: 0.9 });
    T(x, y + 8, pctFmt(pie2Vals[i]), { a: 'middle', sx: 0.9 });
  });

  R(1105, 540.5, 487, 13, GRAYBG, '#000');
  R(1105, 657.5, 487, 13, GRAYBG, '#000');
  R(1105, 670.5, 487, 13, CREAM, '#000');
  L(1155.5, 540.5, 1155.5, 683.5);
  R(1105.5, 644.5, 486.5, 13, 'none', BOXGREEN);
  const blueCols = [0, 1, 3, 4, 5, 6, 8];
  table(cr, indHeader, 547, etfRows, 560, 0.9, (r, c) => {
    if (r === 7 && (c === 5 || c === 8)) return BLUET;
    if (r >= 8 && blueCols.includes(c)) return BLUET;
    return undefined;
  });

  R(1105, 696.5, 487, 13, GRAYBG, '#000');
  R(1105, 956.5, 487, 13, CREAM, '#000');
  L(1155.5, 696.5, 1155.5, 969.5);
  R(1105.5, 709.5, 486.5, 65, 'none', BOXPINK);
  R(1105.5, 904.5, 486.5, 52, 'none', BOXGREEN);
  table(cg, gunHeader, 703, gunRows, 716, 0.9, (r, c) => (r === 19 && [0, 1, 4, 5, 6, 7].includes(c) ? BLUET : undefined));

  // ---------- Right: chart 1 ----------
  T(1929, 14, '2022/12/24 7:15', { sx: 0.88 });
  T(2035, 14, '132.812円/ﾄﾞﾙ', { sx: 0.88 });
  const tx = d3.scaleBand().domain(topNames).range([1660, 2103]).padding(0.47);
  const ty = d3.scaleLinear().domain([0, 110000]).range([223, 26]);
  d3.range(0, 110001, 10000).forEach(t => {
    L(1660, ty(t), 2103, ty(t), t === 0 ? '#bfbfbf' : '#d9d9d9');
    T(1652, ty(t), fmt$(t), { a: 'end', ff: SF, fs: 11, sx: 0.9, fill: '#333' });
  });
  R(1807, 33, 298, 74, '#fff');
  topNames.forEach((n, i) => {
    R(tx(n)!, ty(topVals[i]), tx.bandwidth(), ty(0) - ty(topVals[i]), kindColor(topKind[i]));
    T(tx(n)! + tx.bandwidth() / 2, i % 2 ? 238 : 250, n, { a: 'middle', sx: 0.85 });
  });
  T(1960, 45, '先ずは生き残れ　儲けるのはそれからでいい', { a: 'middle', ff: SF, fs: 14.5, fw: 700, sx: 0.98, fill: RED });
  T(1960, 72, 'ポートフォリオを捏ね繰り回して改善した例は少ない', { a: 'middle', ff: SF, fs: 12, sx: 0.97, fill: '#203864' });
  T(1960, 97, '時に、我慢がベストな選択となり得ることもある', { a: 'middle', ff: SF, fs: 12, sx: 0.97, fill: '#203864' });

  // ---------- grouped charts ----------
  const grouped = (cfg: any) => {
    const { title, ty0, x0, x1, y0, y1, dom, step, labelX, legY, legX, legBg, xLabY, series } = cfg;
    const bx = d3.scaleBand().domain(months).range([x0, x1]).paddingInner(0.36).paddingOuter(0.18);
    const sb = d3.scaleBand().domain(years).range([0, bx.bandwidth()]);
    const y = d3.scaleLinear().domain(dom).range([y0, y1]);
    T((x0 + x1) / 2, ty0, title, { a: 'middle', ff: SF, fs: 13, sx: 0.95, fill: '#595959' });
    d3.range(dom[0], dom[1] + 1, step).forEach((t: number) => {
      L(x0, y(t), x1, y(t), t === dom[0] ? '#bfbfbf' : '#d9d9d9');
      T(labelX, y(t), fmt$(t), { a: 'end', ff: SF, fs: 11, sx: 0.88, fill: '#595959' });
    });
    R(legBg[0], legBg[1], legBg[2], legBg[3], '#fff');
    const cols = [NAVY, GREEN, MAROON];
    months.forEach((m, i) => {
      series.forEach((s: number[], j: number) => {
        R(bx(m)! + sb(years[j])!, y(s[i]), sb.bandwidth(), y(dom[0]) - y(s[i]), cols[j]);
      });
      T(bx(m)! + bx.bandwidth() / 2, xLabY, m, { a: 'middle', sx: 0.85 });
    });
    years.forEach((yr, j) => {
      R(legX[j], legY - 3.5, 7, 7, cols[j]);
      T(legX[j] + 9, legY, yr, { ff: SF, fs: 12, sx: 0.9, fill: '#595959' });
    });
  };
  grouped({ title: '2020年-22年における月別配当金・分配金推移（税引き）', ty0: 280, x0: 1650, x1: 2100, y0: 439, y1: 291, dom: [0, 7000], step: 500, labelX: 1642, legY: 300, legX: [1658, 1728, 1797], legBg: [1650, 286, 212, 22], xLabY: 453, series: [div2020, div2021, div2022] });
  grouped({ title: '2020年-22年における月末累計投資額（現預金残を除く）', ty0: 487, x0: 1672, x1: 2110, y0: 641, y1: 503, dom: [200000, 1100000], step: 100000, labelX: 1663, legY: 513, legX: [1681, 1747, 1812], legBg: [1672, 498, 200, 24], xLabY: 655, series: [inv2020, inv2021, inv2022] });
  grouped({ title: '2020年-22年における月末累計評価額（現預金残を除く）', ty0: 687, x0: 1674, x1: 2113, y0: 847, y1: 705, dom: [200000, 1100000], step: 100000, labelX: 1664, legY: 710, legX: [1683, 1749, 1814], legBg: [1674, 699, 202, 18], xLabY: 862, series: [val2020, val2021, val2022] });

  // ---------- broker table ----------
  const cb: Col[] = [[1656, 'middle'], [1794, 'end'], [1882, 'end'], [1968, 'end'], [2056, 'end'], [2112, 'end']];
  R(1603, 878.5, 510, 13, GRAYBG);
  R(1603, 956.5, 369, 13, GRAYBG);
  R(1972, 891.5, 141, 78, CREAM);
  [878.5, 891.5, 956.5, 969.5].forEach(y => L(1603, y, 2113, y));
  [1709, 1797, 1885].forEach(x => L(x, 878.5, x, 969.5));
  R(1972, 878.5, 141, 91, 'none', RED, 1.2);
  L(2060, 878.5, 2060, 969.5, RED, 1.2);
  table(cb, brokerHeader, 885, brokerRows, 898, 0.88, (r, c) => (r === 5 && c === 0 ? RED : undefined));

  return (
    <svg width={2137} height={979} style={{ position: 'absolute', left: 0, top: 0, background: '#fff' }}>
      <defs>{defs}</defs>
      <rect x={0} y={0} width={2137} height={979} fill="#fff" />
      {out}
    </svg>
  );
}
